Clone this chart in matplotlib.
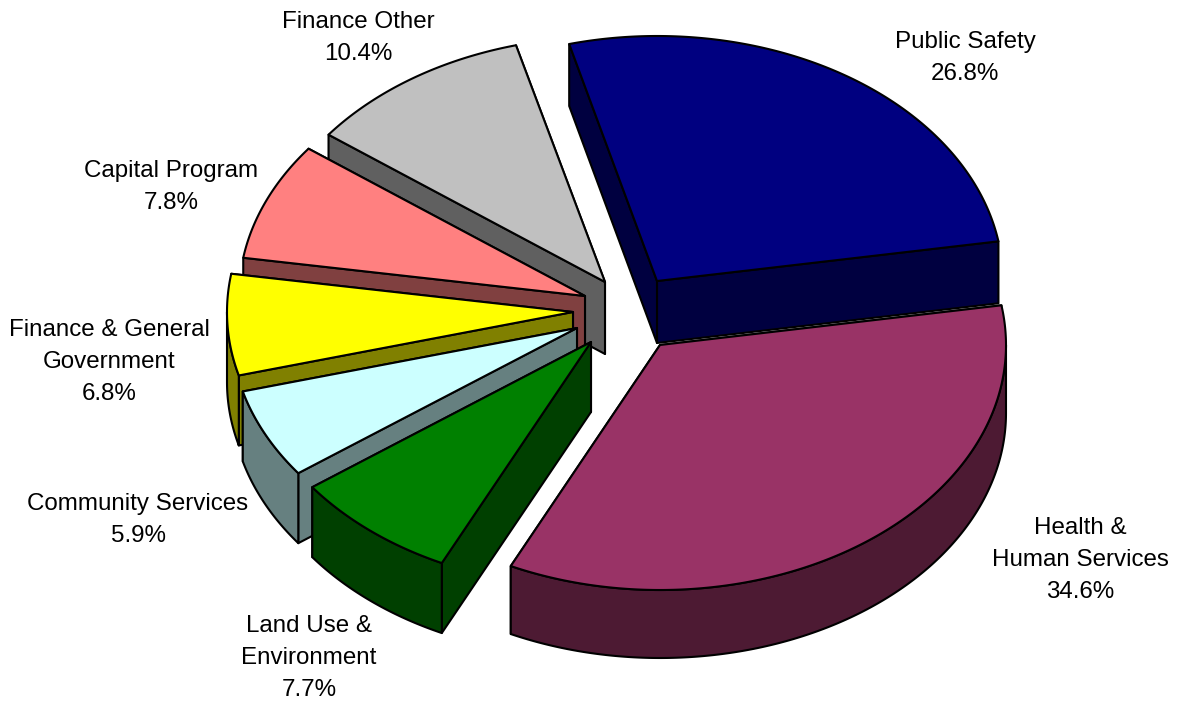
import numpy as np
from matplotlib import pyplot as plt
from matplotlib.patches import Polygon

labels = ['Public Safety', 'Health &\nHuman Services', 'Land Use &\nEnvironment', 'Community Services',
          'Finance & General\nGovernment', 'Capital Program', 'Finance Other']
shares = [26.8, 34.6, 7.7, 5.9, 6.8, 7.8, 10.4]

top_colors = ['#000080', '#993366', '#008000', '#CCFFFF', '#FFFF00', '#FF8080', '#C0C0C0']
side_colors = ['#000040', '#4D1A33', '#004000', '#668080', '#808000', '#804040', '#606060']

# pie layout in pixels, y pointing down
center_x, center_y = 626, 314
radius_x, radius_y = 346, 245
start_angle = -14.5
explode_x = [31, 34, -35, -49, -53, -41, -21]
explode_y = [-33, 31, 28, 14, -2, -18, -32]
depths = [62, 68, 70, 70, 70, 70, 72]
label_x = [965, 1080, 309, 138, 109, 171, 358]
label_y = [58, 560, 658, 520, 362, 187, 38]
draw_order = [0, 6, 5, 4, 3, 2, 1]


def perspective(t):
    # the 3d view pulls the drawn edges back a little from the true angle
    return t + np.interp(t, [-14.5, 82, 206, 234, 255, 280, 308, 345.5],
                         [-0.2, -1.3, -1.0, -0.6, -0.5, -1.0, -1.1, -0.4])


def arc_points(cx, cy, t1, t2):
    t = np.radians(np.linspace(t1, t2, max(2, int(abs(t2 - t1)) * 2)))
    return np.column_stack([cx + radius_x * np.sin(t), cy - radius_y * np.cos(t)])


def shifted(points, depth):
    return points + np.array([0, depth])


def add_face(ax, points, color):
    ax.add_patch(Polygon(points, closed=True, facecolor=color, edgecolor='black', linewidth=1.5, joinstyle='round'))


fig = plt.figure(figsize=(11.77, 7.02), dpi=100)
ax = fig.add_axes([0, 0, 1, 1])
ax.set_xlim(0, 1177)
ax.set_ylim(702, 0)
ax.axis('off')

edges = perspective(start_angle + np.concatenate([[0], np.cumsum(shares)[:-1]]) * 3.6)
edges = np.append(edges, perspective(start_angle + 360 - 0.01))

for i in draw_order:
    t1, t2 = edges[i], edges[i + 1]
    cx, cy = center_x + explode_x[i], center_y + explode_y[i]
    depth = depths[i]
    apex = np.array([[cx, cy]])
    arc = arc_points(cx, cy, t1, t2)

    # radial walls first, the top face hides whichever one faces away
    for corner in [arc[-1:], arc[:1]]:
        wall = np.vstack([apex, corner, shifted(corner, depth), shifted(apex, depth)])
        add_face(ax, wall, side_colors[i])

    # rim only on the front half of the ellipse
    f1, f2 = max(t1, 90), min(t2, 270)
    if f2 > f1:
        rim = arc_points(cx, cy, f1, f2)
        add_face(ax, np.vstack([rim, shifted(rim, depth)[::-1]]), side_colors[i])

    add_face(ax, np.vstack([apex, arc]), top_colors[i])

for i, label in enumerate(labels):
    ax.text(label_x[i], label_y[i], f'{label}\n{shares[i]}%', ha='center', va='center', family='Liberation Sans',
            fontsize=17.4, linespacing=1.56, color='black')

fig.savefig('out.png', dpi=100)
